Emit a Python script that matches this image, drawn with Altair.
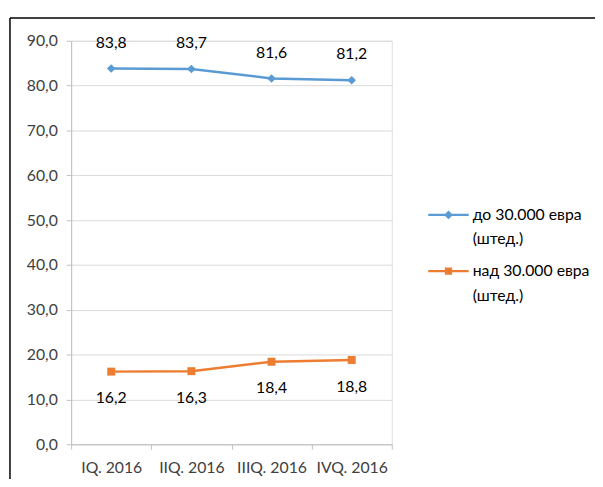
import altair as alt
import pandas as pd

quarters = ["IQ. 2016", "IIQ. 2016", "IIIQ. 2016", "IVQ. 2016"]
series_names = ["до 30.000 евра (штед.)", "над 30.000 евра (штед.)"]
values_low = [83.8, 83.7, 81.6, 81.2]
values_high = [16.2, 16.3, 18.4, 18.8]
colors = ["#5B9BD5", "#ED7D31"]

rows = []
for q, v in zip(quarters, values_low):
    rows.append({"q": q, "s": series_names[0], "v": v})
for q, v in zip(quarters, values_high):
    rows.append({"q": q, "s": series_names[1], "v": v})
df = pd.DataFrame(rows)

FONT = "Lato"
FS = 16
TXT = "#404040"

# legend symbols: line with a marker
diamond_path = "M-1,-0.06L1,-0.06L1,0.06L-1,0.06Z M0,-0.22L0.22,0L0,0.22L-0.22,0Z"
square_path = "M-1,-0.06L1,-0.06L1,0.06L-1,0.06Z M-0.18,-0.18L0.18,-0.18L0.18,0.18L-0.18,0.18Z"

x_enc = alt.X("q:N", sort=quarters, title=None,
              scale=alt.Scale(paddingInner=0, paddingOuter=0),
              axis=alt.Axis(labelAngle=0, tickBand="extent", tickSize=5,
                            tickColor="#BFBFBF", domainColor="#BFBFBF",
                            labelFont=FONT, labelFontSize=FS, labelColor=TXT,
                            labelPadding=11, grid=False))
y_enc = alt.Y("v:Q", title=None,
              scale=alt.Scale(domain=[0, 90], nice=False),
              axis=alt.Axis(values=list(range(0, 91, 10)), tickSize=5,
                            tickColor="#BFBFBF", domainColor="#BFBFBF",
                            gridColor="#D9D9D9", labelFont=FONT,
                            labelFontSize=FS, labelColor=TXT, labelPadding=9,
                            labelExpr="replace(format(datum.value, '.1f'), '.', ',')"))

base = alt.Chart(df)

def series(i, shape, size):
    d = base.transform_filter(alt.datum.s == series_names[i])
    ln = d.mark_line(strokeWidth=2.5, color=colors[i]).encode(x=x_enc, y=y_enc)
    pt = d.mark_point(shape=shape, filled=True, size=size, opacity=1, color=colors[i]).encode(
        x=alt.X("q:N", sort=quarters), y="v:Q")
    return ln, pt

ln0, pt0 = series(0, "diamond", 75)
ln1, pt1 = series(1, "square", 65)

lbl_low = base.transform_filter(alt.datum.s == series_names[0]).transform_calculate(
    lbl="replace(format(datum.v, '.1f'), '.', ',')"
).mark_text(dy=-26, font=FONT, fontSize=FS, color="#000000").encode(
    x=alt.X("q:N", sort=quarters), y="v:Q", text="lbl:N")
lbl_high = base.transform_filter(alt.datum.s == series_names[1]).transform_calculate(
    lbl="replace(format(datum.v, '.1f'), '.', ',')"
).mark_text(dy=27, font=FONT, fontSize=FS, color="#000000").encode(
    x=alt.X("q:N", sort=quarters), y="v:Q", text="lbl:N")

# empty layer that only provides the legend
legend_layer = base.transform_filter("false").mark_point(filled=True, opacity=1).encode(
    x=alt.X("q:N", sort=quarters), y="v:Q",
    color=alt.Color("s:N", scale=alt.Scale(domain=series_names, range=colors), title=None,
                    legend=alt.Legend(
                        orient="none", legendX=362, legendY=156, padding=0,
                        symbolSize=1681, symbolStrokeWidth=0, symbolOpacity=1,
                        labelFont=FONT, labelFontSize=FS, labelColor="#000000",
                        labelOffset=4, rowPadding=3, labelLimit=300,
                        labelBaseline="middle",
                        labelExpr="[slice(datum.label, 0, indexof(datum.label, ' (')), slice(datum.label, indexof(datum.label, ' (') + 1)]")),
    shape=alt.Shape("s:N", scale=alt.Scale(domain=series_names, range=[diamond_path, square_path]),
                    title=None),
)

frame_data = alt.Data(values=[{"a": 1}])
top_border = alt.Chart(frame_data).mark_rule(color="#000000", strokeWidth=1.5).encode(
    x=alt.value(-62), x2=alt.value(540), y=alt.value(-23))
left_border = alt.Chart(frame_data).mark_rule(color="#000000", strokeWidth=1.5).encode(
    x=alt.value(-62), y=alt.value(-23), y2=alt.value(460))

chart = alt.layer(ln0, ln1, pt0, pt1, lbl_low, lbl_high, legend_layer, top_border, left_border).properties(
    width=325, height=409,
    autosize=alt.AutoSizeParams(type="none"),
    padding={"left": 64, "top": 30, "right": 206, "bottom": 32},
).configure_view(stroke=None).configure(style={"guide-label": {"lineHeight": 25}})

chart.save("out.html", embed_options={"renderer": "svg", "actions": False})
